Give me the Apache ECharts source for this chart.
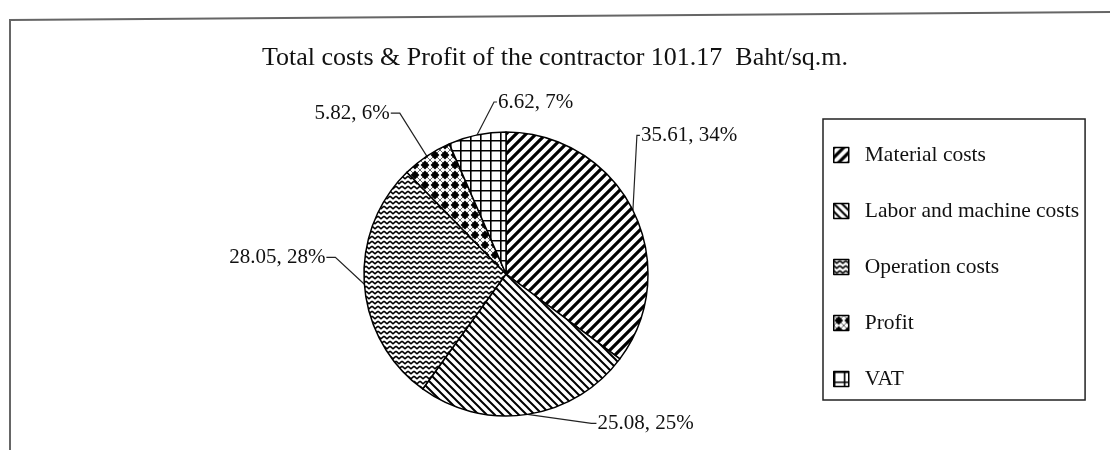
<!DOCTYPE html>
<html>
<head>
<meta charset="utf-8">
<script src="https://cdn.jsdelivr.net/npm/echarts@6/dist/echarts.min.js"></script>
<style>
html,body{margin:0;padding:0;background:#fff;}
#c{width:1110px;height:450px;}
</style>
</head>
<body>
<div id="c"></div>
<script>
// ---- data ----
const titleText = 'Total costs & Profit of the contractor 101.17  Baht/sq.m.';
const categories = ['Material costs', 'Labor and machine costs', 'Operation costs', 'Profit', 'VAT'];
const values = [35.61, 25.08, 28.05, 5.82, 6.62];
const percentLabels = ['34%', '25%', '28%', '6%', '7%'];

// ---- fill patterns (hatching) ----
function tile(w, h, draw) {
  const cv = document.createElement('canvas');
  cv.width = w; cv.height = h;
  const ctx = cv.getContext('2d');
  ctx.fillStyle = '#fff';
  ctx.fillRect(0, 0, w, h);
  ctx.strokeStyle = '#000';
  ctx.fillStyle = '#000';
  draw(ctx, w, h);
  return cv;
}
const patMaterial = tile(10, 10, (c, w, h) => {
  c.lineWidth = 3.2;
  c.beginPath();
  c.moveTo(-2, h + 2); c.lineTo(w + 2, -2);
  c.moveTo(-2, 2); c.lineTo(2, -2);
  c.moveTo(w - 2, h + 2); c.lineTo(w + 2, h - 2);
  c.stroke();
});
const patLabor = tile(8, 8, (c, w, h) => {
  c.lineWidth = 2;
  c.beginPath();
  c.moveTo(-2, -2); c.lineTo(w + 2, h + 2);
  c.moveTo(w - 2, -2); c.lineTo(w + 2, 2);
  c.moveTo(-2, h - 2); c.lineTo(2, h + 2);
  c.stroke();
});
const patOperation = tile(6, 5, (c, w, h) => {
  c.lineWidth = 1.6;
  c.beginPath();
  c.moveTo(0, 1.2); c.lineTo(3, 3.8); c.lineTo(6, 1.2);
  c.stroke();
});
const patProfit = tile(10, 10, (c, w, h) => {
  c.beginPath();
  c.moveTo(5, 0.6); c.lineTo(9.4, 5); c.lineTo(5, 9.4); c.lineTo(0.6, 5);
  c.closePath();
  c.fill();
  c.lineWidth = 0.6;
  c.beginPath();
  c.moveTo(0, 0); c.lineTo(10, 10);
  c.moveTo(10, 0); c.lineTo(0, 10);
  c.stroke();
});
const patVAT = tile(10, 10, (c, w, h) => {
  c.lineWidth = 1.6;
  c.beginPath();
  c.moveTo(0, 0.8); c.lineTo(w, 0.8);
  c.moveTo(0.8, 0); c.lineTo(0.8, h);
  c.stroke();
});
const patterns = [patMaterial, patLabor, patOperation, patProfit, patVAT];

// leader-line style (offset of the label from the slice's edge anchor, Excel-like elbow)
const labelOffset = [[8, -75], [70, 9], [-39, -27], [-37, -43], [21, -33]];
const elbowGap = [4, 6, 10, 10, 4];

const FONT = '"Liberation Serif", "Times New Roman", serif';

const seriesData = categories.map((name, i) => ({
  name: name,
  value: values[i],
  itemStyle: { color: { image: patterns[i], repeat: 'repeat' } }
}));

const chart = echarts.init(document.getElementById('c'), null, { renderer: 'canvas' });
chart.setOption({
  animation: false,
  backgroundColor: '#fff',
  title: {
    text: titleText,
    left: 'center',
    top: 40,
    textStyle: { fontFamily: FONT, fontSize: 26, fontWeight: 'normal', color: '#111' }
  },
  legend: {
    orient: 'vertical',
    left: 823,
    top: 119,
    padding: [25, 6, 10, 10],
    itemGap: 34,
    itemWidth: 15,
    itemHeight: 15,
    icon: 'rect',
    borderColor: '#222',
    borderWidth: 1.5,
    borderRadius: 0,
    textStyle: { fontFamily: FONT, fontSize: 21.5, color: '#111', padding: [0, 0, 0, 11] },
    itemStyle: { borderColor: '#000', borderWidth: 1.5 },
    data: categories
  },
  graphic: [
    {
      type: 'polyline',
      shape: { points: [[10, 450], [10, 20], [1110, 12]] },
      style: { stroke: '#666', lineWidth: 2, fill: null }
    }
  ],
  series: [{
    type: 'pie',
    center: [506, 274],
    radius: 142,
    startAngle: 90,
    clockwise: true,
    avoidLabelOverlap: false,
    itemStyle: { borderColor: '#000', borderWidth: 1.5 },
    label: {
      show: true,
      position: 'outside',
      fontFamily: FONT,
      fontSize: 21,
      color: '#111',
      formatter: p => p.value.toFixed(2) + ', ' + percentLabels[p.dataIndex]
    },
    labelLine: { show: true, length: 12, length2: 6, lineStyle: { color: '#222', width: 1.2 } },
    labelLayout: function (params) {
      const i = params.dataIndex;
      const pts = params.labelLinePoints;
      if (!pts) return {};
      const a = pts[0];
      const ox = labelOffset[i][0], oy = labelOffset[i][1];
      const lx = a[0] + ox, ly = a[1] + oy;
      const right = ox > 0;
      const elbowX = right ? lx - elbowGap[i] : lx + elbowGap[i];
      const endX = right ? lx - 1 : lx + 1;
      return {
        x: lx,
        y: ly,
        align: right ? 'left' : 'right',
        verticalAlign: 'middle',
        hideOverlap: false,
        labelLinePoints: [a, [elbowX, ly], [endX, ly]]
      };
    },
    emphasis: { disabled: true },
    data: seriesData
  }]
});
</script>
</body>
</html>
